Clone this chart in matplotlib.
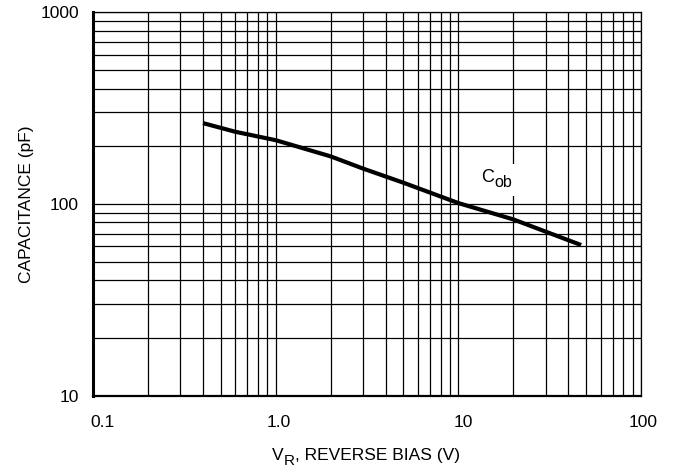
import matplotlib
matplotlib.use("Agg")
import matplotlib.pyplot as plt
from matplotlib.transforms import ScaledTranslation
from matplotlib.ticker import LogLocator, NullFormatter, FixedLocator, FixedFormatter

plt.rcParams['font.family'] = ['Liberation Sans', 'DejaVu Sans']

# Data
vr = [0.4, 0.6, 1.0, 2.0, 3.0, 5.0, 10, 20, 47]
cob = [264, 238, 215, 177, 153, 129, 101, 83, 61]

x_ticks = [0.1, 1, 10, 100]
x_labels = ["0.1", "1.0", "10", "100"]
y_ticks = [10, 100, 1000]
y_labels = ["10", "100", "1000"]

fig = plt.figure(figsize=(6.73, 4.72), dpi=100)
ax = fig.add_axes([0.1382, 0.162, 0.8143, 0.812])

ax.plot(vr, cob, color="black", lw=3.0, solid_capstyle="butt", zorder=3)

ax.set_xscale("log")
ax.set_yscale("log")
ax.set_xlim(0.1, 100)
ax.set_ylim(10, 1000)

ax.xaxis.set_major_locator(FixedLocator(x_ticks))
ax.xaxis.set_major_formatter(FixedFormatter(x_labels))
ax.yaxis.set_major_locator(FixedLocator(y_ticks))
ax.yaxis.set_major_formatter(FixedFormatter(y_labels))
for axis in (ax.xaxis, ax.yaxis):
    axis.set_minor_locator(LogLocator(base=10, subs=range(2, 10)))
    axis.set_minor_formatter(NullFormatter())

fs = 12.5
ax.grid(which="both", color="black", lw=0.9)
ax.tick_params(which="both", length=0, labelsize=fs)
ax.tick_params(axis="x", pad=14)
ax.tick_params(axis="y", pad=10)

# datasheet labels sit a little right of their gridlines
for lbl, dx in zip(ax.get_xticklabels(), [9, 3, 5, 2]):
    lbl.set_transform(lbl.get_transform() + ScaledTranslation(dx / 100, 0, fig.dpi_scale_trans))

ax.spines["left"].set_linewidth(2.2)
ax.spines["bottom"].set_linewidth(1.6)
ax.spines["top"].set_linewidth(0.9)
ax.spines["right"].set_linewidth(0.9)

ax.set_ylabel("CAPACITANCE (pF)", fontsize=fs, labelpad=5)

# x label with a near full-size subscript
v = fig.text(272 / 673, 1 - 463 / 472, "V", fontsize=fs, ha="left", va="bottom")
r = ax.annotate("R", xy=(1, 0), xycoords=v, xytext=(0.3, -3.5), textcoords="offset points",
                fontsize=fs * 0.88, ha="left", va="bottom")
ax.annotate(", REVERSE BIAS (V)", xy=(1, 0), xycoords=r, xytext=(0, 3.5),
            textcoords="offset points", fontsize=fs, ha="left", va="bottom")

# curve label with white box hiding the grid
ax.text(15.9, 133, " " * 7, fontsize=fs, ha="center", va="center",
        bbox=dict(facecolor="white", edgecolor="none", pad=6), zorder=4)
c = ax.text(13.4, 138, "C", fontsize=fs + 0.5, ha="left", va="center", zorder=5)
ax.annotate("ob", xy=(1, 0), xycoords=c, xytext=(0.2, -3.5), textcoords="offset points",
            fontsize=fs * 0.92, ha="left", va="bottom", zorder=5)

fig.savefig("out.png", dpi=100)
